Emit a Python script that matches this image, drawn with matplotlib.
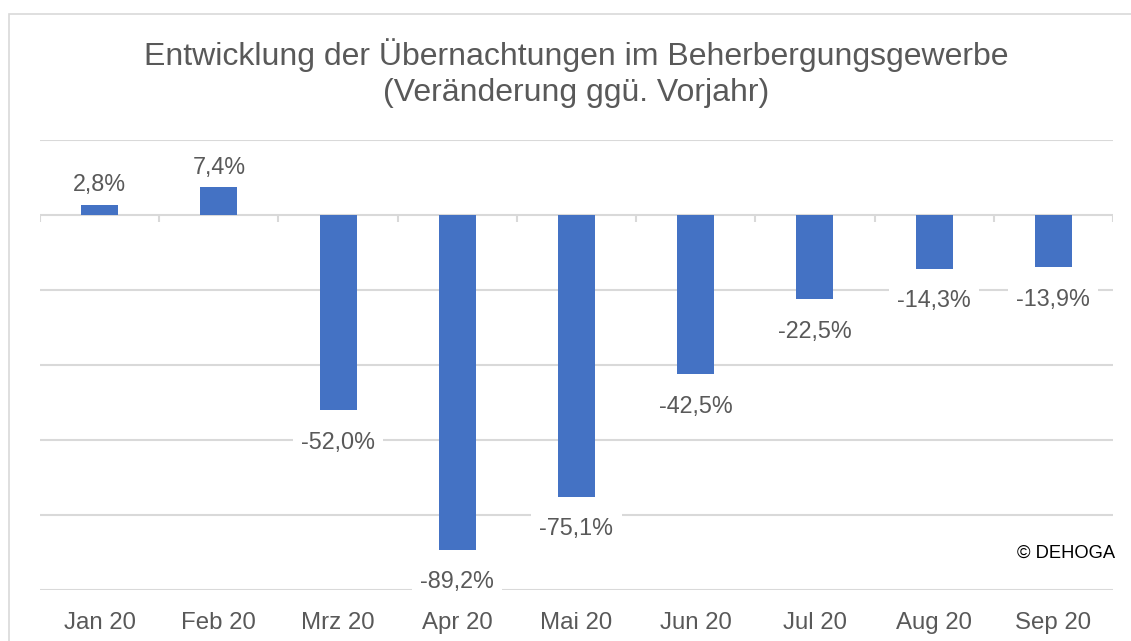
import matplotlib
matplotlib.use("Agg")
import matplotlib.pyplot as plt
import numpy as np
from matplotlib.patches import Rectangle

categories = ["Jan 20", "Feb 20", "Mrz 20", "Apr 20", "Mai 20", "Jun 20", "Jul 20", "Aug 20", "Sep 20"]
values = [2.8, 7.4, -52.0, -89.2, -75.1, -42.5, -22.5, -14.3, -13.9]
yticks = [20, 0, -20, -40, -60, -80, -100]
title_lines = ["Entwicklung der Übernachtungen im Beherbergungsgewerbe",
               "(Veränderung ggü. Vorjahr)"]
source = "© DEHOGA"

plt.rcParams['font.family'] = ['Liberation Sans', 'DejaVu Sans']
W, H = 1131, 641
fig = plt.figure(figsize=(W / 100, H / 100), dpi=100)
ax = fig.add_axes([40 / W, 1 - 590 / H, (1113 - 40) / W, (590 - 140) / H])

grid_c = "#D9D9D9"
text_c = "#595959"
bar_c = "#4472C4"

x = np.arange(len(categories))
ax.bar(x, values, width=0.31, color=bar_c, zorder=3)
ax.set_xlim(-0.5, len(categories) - 0.5)
ax.set_ylim(min(yticks), max(yticks))
ax.set_yticks(yticks)
ax.yaxis.grid(True, color=grid_c, linewidth=1.5, zorder=0)
ax.set_axisbelow(True)
ax.tick_params(axis='y', left=False, labelleft=False)
ax.set_xticks(x)
ax.set_xticklabels(categories, fontsize=17.3, color=text_c)
ax.tick_params(axis='x', bottom=False, pad=12.2)
for s in ax.spines.values():
    s.set_visible(False)

# small tick marks on the zero line at category boundaries
bounds = np.arange(len(categories) + 1) - 0.5
ax.vlines(bounds, 0, -1.9, color=grid_c, linewidth=1.5, zorder=1)

for xi, v in zip(x, values):
    lbl = f"{v:.1f}%".replace(".", ",")
    off = 20 if v >= 0 else -32
    ax.annotate(lbl, (xi, v), xytext=(0, off * 0.72), textcoords='offset points',
                ha='center', va='center', fontsize=16.8, color=text_c, zorder=5,
                bbox=dict(boxstyle='square,pad=0.35', facecolor='white', edgecolor='none'))

for yy, line in zip([55, 93], title_lines):
    fig.text(576.5 / W, 1 - yy / H, line, ha='center', va='center', fontsize=23,
             color=text_c)
fig.text(1115 / W, 1 - 553 / H, source, ha='right', va='center', fontsize=13.2, color='black')

# outer light border
fig.patches.append(Rectangle((9 / W, -0.1), 1.2, 1 - 14 / H + 0.1, transform=fig.transFigure,
                             fill=False, edgecolor=grid_c, linewidth=1.2))

fig.savefig("out.png", dpi=100)
